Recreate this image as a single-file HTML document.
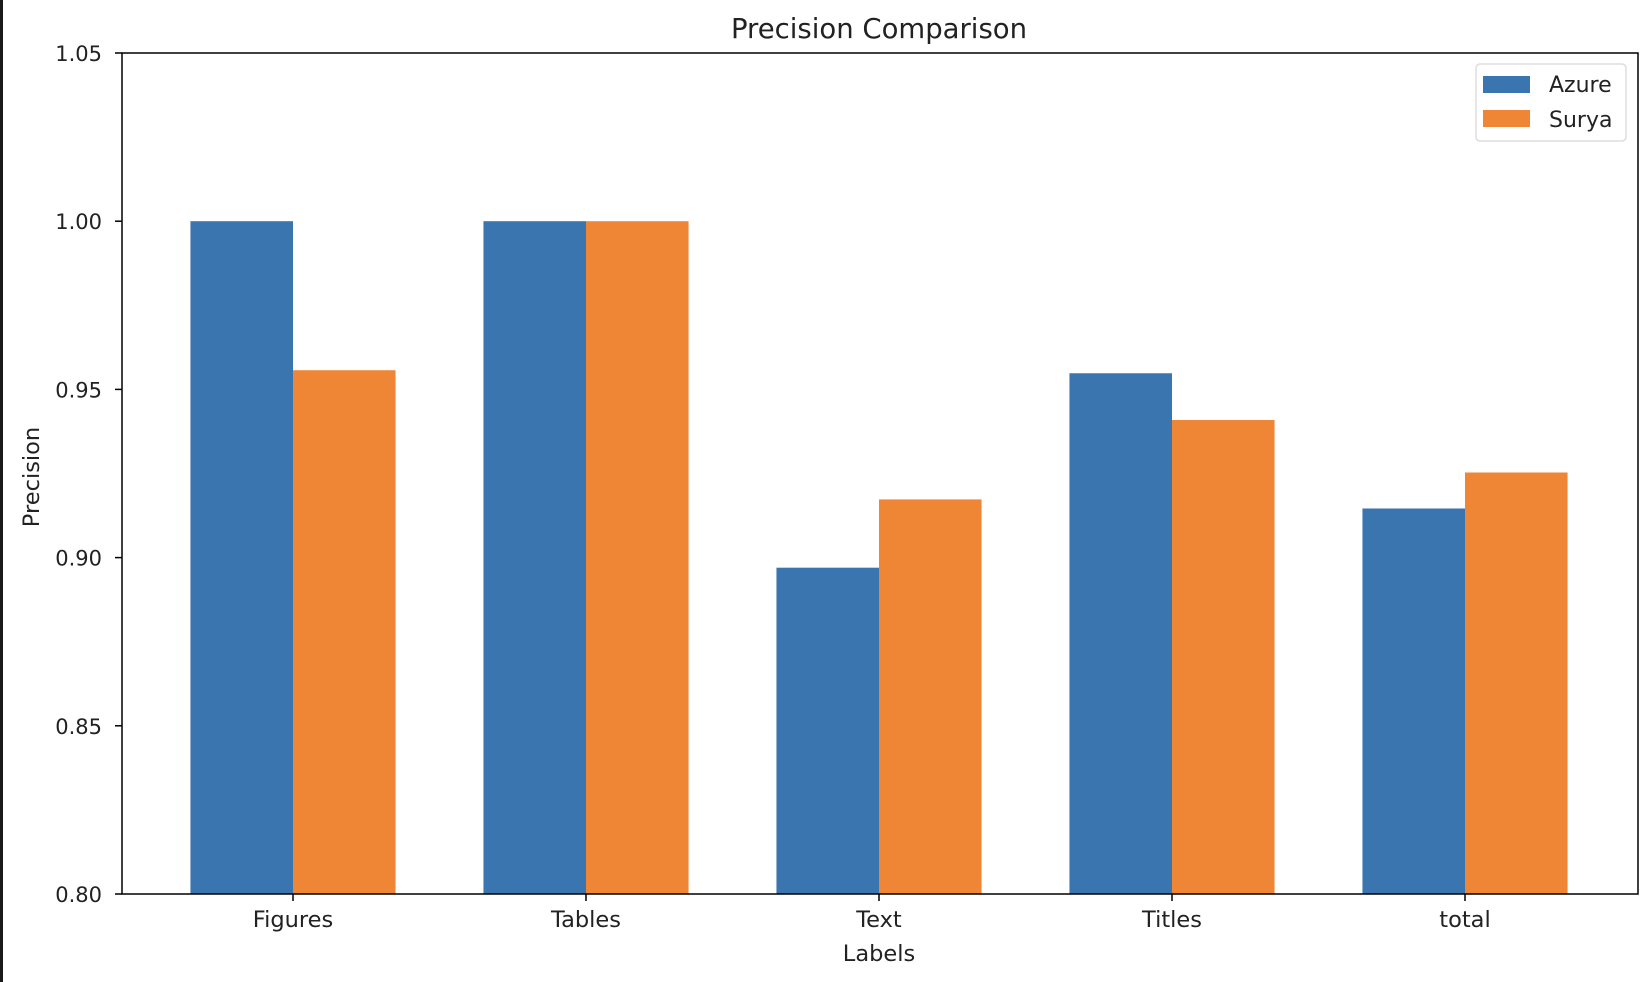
<!DOCTYPE html>
<html><head><meta charset="utf-8"><style>
html,body{margin:0;padding:0;background:#fff;}
svg{display:block;font-family:"DejaVu Sans","Liberation Sans",sans-serif;}
</style></head><body>
<svg id="chart" width="1652" height="982" xmlns="http://www.w3.org/2000/svg">
<rect x="0" y="0" width="1652" height="982" fill="#fff"/>
<rect x="0" y="0" width="3" height="982" fill="#1a1a1a"/>
<text x="879" y="38" font-size="27.5" text-anchor="middle" fill="#222">Precision Comparison</text>
<g id="bars"></g>
<g id="axes"></g>
<text x="879" y="961" font-size="22.5" text-anchor="middle" fill="#222">Labels</text>
<text transform="translate(39,477) rotate(-90)" font-size="22.5" text-anchor="middle" fill="#222">Precision</text>
<g>
<rect x="1476" y="64" width="150" height="77" rx="4" fill="#fff" fill-opacity="0.8" stroke="#ddd" stroke-width="1.5"/>
<rect x="1483" y="76" width="47" height="17" fill="#3a75af"/>
<text x="1549" y="92" font-size="22" fill="#222">Azure</text>
<rect x="1483" y="110" width="47" height="17" fill="#ef8636"/>
<text x="1549" y="127" font-size="22" fill="#222">Surya</text>
</g>
</svg>
<script>
const categories = ["Figures","Tables","Text","Titles","total"];
const azure = [1.0, 1.0, 0.897, 0.9548, 0.9146];
const surya = [0.9557, 1.0, 0.9173, 0.9409, 0.9253];
const yTicks = [0.80, 0.85, 0.90, 0.95, 1.00, 1.05];
const yTickLabels = ["0.80","0.85","0.90","0.95","1.00","1.05"];

const NS = "http://www.w3.org/2000/svg";
const L = 122, R = 1638, T = 53, B = 894;
const yMin = 0.80, yMax = 1.05;
function yScale(v){ return B - (v - yMin) / (yMax - yMin) * (B - T); }
const step = 293, x0 = 293;
function xScale(i){ return x0 + step * i; }
const bw = 0.35 * step;

const bars = document.getElementById('bars');
const axes = document.getElementById('axes');
function mk(tag, attrs, parent){
  const e = document.createElementNS(NS, tag);
  for (const k in attrs) e.setAttribute(k, attrs[k]);
  parent.appendChild(e);
  return e;
}
categories.forEach((c, i) => {
  const cx = xScale(i);
  const ya = yScale(azure[i]);
  const a = mk('rect', {x: cx - bw, y: ya, width: bw, height: B - ya, fill: '#3a75af'}, bars);
  
  
  const ys = yScale(surya[i]);
  const s = mk('rect', {x: cx, y: ys, width: bw, height: B - ys, fill: '#ef8636'}, bars);
  
  
  const tk = mk('line', {x1: cx, x2: cx, y1: B, y2: B + 7, stroke: '#000', 'stroke-width': 1.5}, axes);
  
  
  const t = mk('text', {x: cx, y: 927, 'font-size': 22.5, 'text-anchor': 'middle', fill: '#222'}, axes);
  t.textContent = c;
  
  
});
yTicks.forEach((v, i) => {
  const y = yScale(v);
  const tk = mk('line', {x1: L - 7, x2: L, y1: y, y2: y, stroke: '#000', 'stroke-width': 1.5}, axes);
  
  
  const t = mk('text', {x: 102, y: y + 8, 'font-size': 21, 'text-anchor': 'end', fill: '#222'}, axes);
  t.textContent = yTickLabels[i];
  
  
});
const frame = mk('rect', {x: L, y: T, width: R - L, height: B - T, fill: 'none', stroke: '#000', 'stroke-width': 1.5}, axes);


</script>
</body></html>
